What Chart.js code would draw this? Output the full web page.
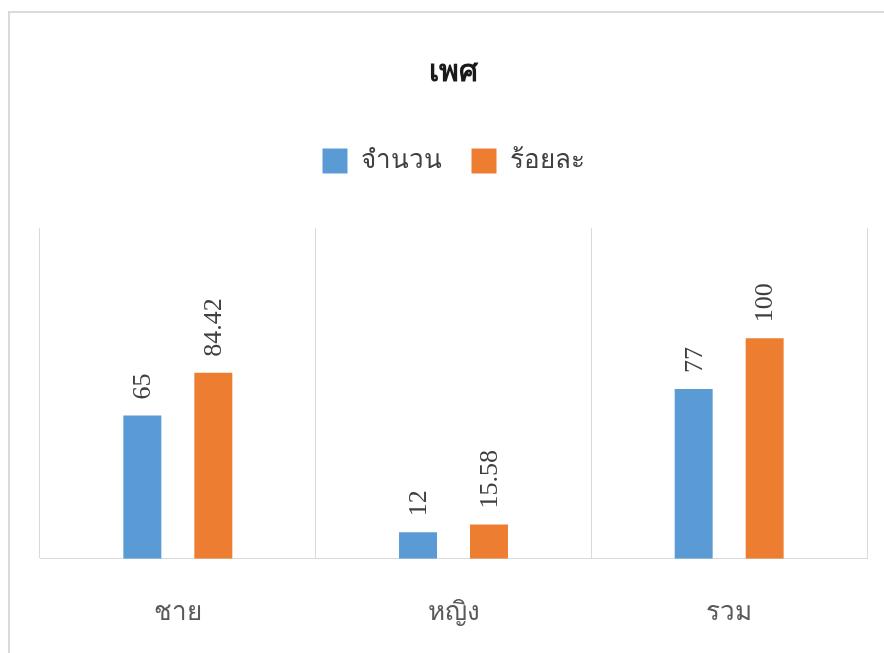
<!DOCTYPE html>
<html>
<head>
<meta charset="utf-8">
<script src="https://cdn.jsdelivr.net/npm/chart.js@4"></script>
<style>
  body { margin: 0; background: #fff; overflow: hidden; }
  #frame { position: absolute; left: 8px; top: 11px; width: 900px; height: 700px; border: 2px solid #d9d9d9; }
  #wrap { position: absolute; left: 0; top: 0; width: 884px; height: 680px; }
</style>
</head>
<body>
<div id="frame"></div>
<div id="wrap"><canvas id="chart" width="884" height="680"></canvas></div>
<script>
const categories = ["ชาย", "หญิง", "รวม"];
const countValues = [65, 12, 77];
const percentValues = [84.42, 15.58, 100];
const seriesNames = ["จำนวน", "ร้อยละ"];

const thaiFont = '"Noto Sans", "DejaVu Sans", sans-serif';

// values written above each bar, turned on their side
const barLabels = {
    id: "barLabels",
    afterDatasetsDraw(chart) {
        const ctx = chart.ctx;
        ctx.save();
        ctx.font = '26px "Liberation Serif", serif';
        ctx.fillStyle = "#404040";
        ctx.textAlign = "left";
        ctx.textBaseline = "middle";
        chart.data.datasets.forEach((ds, i) => {
            chart.getDatasetMeta(i).data.forEach((bar, j) => {
                ctx.save();
                ctx.translate(bar.x + 1, bar.y - 16);
                ctx.rotate(-Math.PI / 2);
                ctx.fillText(String(ds.data[j]), 0, 0);
                ctx.restore();
            });
        });
        ctx.restore();
    }
};

// extra room under the legend, like the original
const legendGap = {
    id: "legendGap",
    beforeInit(chart) {
        const fit = chart.legend.fit;
        chart.legend.fit = function () {
            fit.bind(chart.legend)();
            this.height += 44;
        };
    }
};

new Chart(document.getElementById("chart"), {
    type: "bar",
    data: {
        labels: categories,
        datasets: [
            { label: seriesNames[0], data: countValues, backgroundColor: "#5B9BD5" },
            { label: seriesNames[1], data: percentValues, backgroundColor: "#ED7D31" }
        ]
    },
    options: {
        responsive: false,
        animation: false,
        categoryPercentage: 0.515,
        barPercentage: 0.535,
        layout: { padding: { left: 40, right: 17, bottom: 14, top: 0 } },
        plugins: {
            title: {
                display: true,
                text: "เพศ",
                color: "#1a1a1a",
                font: { family: thaiFont, size: 30, weight: "bold" },
                padding: { top: 54, bottom: 28 }
            },
            legend: {
                position: "top",
                labels: {
                    boxWidth: 25,
                    boxHeight: 25,
                    padding: 30,
                    color: "#404040",
                    font: { family: thaiFont, size: 26 }
                }
            },
            tooltip: { enabled: false }
        },
        scales: {
            x: {
                grid: { display: true, offset: true, color: "#d9d9d9", drawTicks: false },
                border: { color: "#d9d9d9" },
                ticks: {
                    padding: 38,
                    color: "#595959",
                    font: { family: thaiFont, size: 26 }
                }
            },
            y: {
                display: false,
                min: 0,
                max: 150
            }
        }
    },
    plugins: [barLabels, legendGap]
});
</script>
</body>
</html>
